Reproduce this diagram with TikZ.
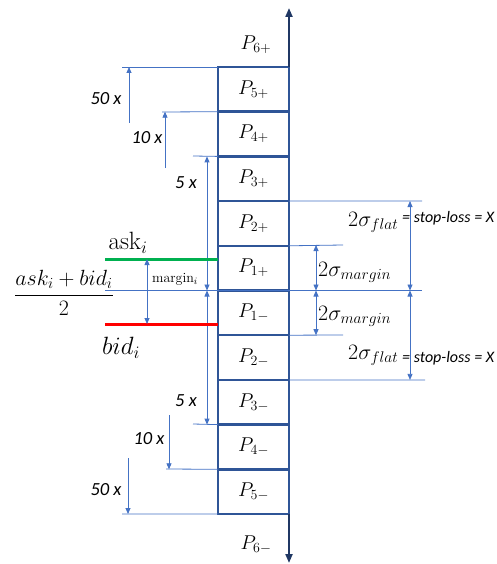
\RequirePackage{fix-cm}
\documentclass[tikz,border=0pt]{standalone}
\usepackage{fontspec}
\newfontfamily\carl{Carlito}
\usetikzlibrary{arrows.meta}
\definecolor{boxblue}{RGB}{47,85,151}
\definecolor{navy}{RGB}{32,56,100}
\definecolor{dimblue}{RGB}{68,114,196}
\definecolor{askgreen}{RGB}{0,176,80}
\definecolor{bidred}{RGB}{255,0,0}
\begin{document}
\begin{tikzpicture}[x=1pt,y=-1pt,
  pbox/.style={draw=boxblue, line width=2.4pt, minimum width=71pt, minimum height=44.7pt,
    inner sep=0pt, outer sep=0pt, font=\fontsize{20}{22}\selectfont},
  plab/.style={inner sep=0pt, font=\fontsize{20}{22}\selectfont},
  dim/.style={draw=dimblue, line width=0.8pt},
  dimarr/.style={dim, -{Triangle[length=6pt,width=5pt]}},
  dimdbl/.style={dim, {Triangle[length=6pt,width=5pt]}-{Triangle[length=6pt,width=5pt]}},
  xlab/.style={inner sep=0pt, font=\carl\itshape\fontsize{18.5}{20}\selectfont},
  axisline/.style={draw=navy, line width=2pt, -{Triangle[length=9pt,width=7pt]}},
  sig/.style={inner sep=0pt, font=\fontsize{22}{24}\selectfont},
  stoplab/.style={inner sep=0pt, font=\carl\itshape\fontsize{16}{18}\selectfont},
  pricelab/.style={inner sep=0pt, font=\fontsize{25}{28}\selectfont},
  bidask/.style={line width=3pt}
]
\useasboundingbox (0,0) rectangle (496,564);

% boxes
\node[pbox] (p5p) at (253.5,89.35)  {$P_{5+}$};
\node[pbox] (p4p) at (253.5,134.05) {$P_{4+}$};
\node[pbox] (p3p) at (253.5,178.75) {$P_{3+}$};
\node[pbox] (p2p) at (253.5,223.45) {$P_{2+}$};
\node[pbox] (p1p) at (253.5,268.15) {$P_{1+}$};
\node[pbox] (p1m) at (253.5,312.85) {$P_{1-}$};
\node[pbox] (p2m) at (253.5,357.55) {$P_{2-}$};
\node[pbox] (p3m) at (253.5,402.25) {$P_{3-}$};
\node[pbox] (p4m) at (253.5,446.95) {$P_{4-}$};
\node[pbox] (p5m) at (253.5,491.65) {$P_{5-}$};
\node[plab] (p6p) at (256,45) {$P_{6+}$};
\node[plab] (p6m) at (256,545) {$P_{6-}$};

% axis
\coordinate (axtop) at (289,8);
\coordinate (axbot) at (289,563);
\draw[axisline] (p5p.north east) -- (axtop);
\draw[axisline] (p5m.south east) -- (axbot);

% left upper dimensions
\coordinate (l50t) at (122,67);
\coordinate (a50t) at (129,123);
\draw[dim] (l50t) -- (p5p.north west);
\draw[dimarr] (a50t) -- (a50t |- p5p.north);
\node[xlab] (t50t) at (106,99) {50 x};

\coordinate (l10t) at (162,112);
\coordinate (a10t) at (165,168);
\draw[dim] (l10t) -- (p4p.north west);
\draw[dimarr] (a10t) -- (a10t |- p4p.north);
\node[xlab] (t10t) at (147,138) {10 x};

\coordinate (l5t) at (193,156);
\coordinate (a5) at (207,156);
\draw[dim] (l5t) -- (p3p.north west);
\draw[dimdbl] (a5 |- p1p.south) -- (a5 |- p3p.north);
\node[xlab] (t5t) at (186,183) {5 x};

% left lower dimensions
\coordinate (l5b) at (193,424);
\draw[dim] (l5b) -- (p3m.south west);
\draw[dimdbl] (a5 |- p1m.north) -- (a5 |- p3m.south);
\node[xlab] (t5b) at (186,401) {5 x};

\coordinate (l10b) at (166,469);
\coordinate (a10b) at (169,415);
\draw[dim] (l10b) -- (p4m.south west);
\draw[dimarr] (a10b) -- (a10b |- p4m.south);
\node[xlab] (t10b) at (149,439) {10 x};

\coordinate (l50b) at (122,514);
\coordinate (a50b) at (128,458);
\draw[dim] (l50b) -- (p5m.south west);
\draw[dimarr] (a50b) -- (a50b |- p5m.south);
\node[xlab] (t50b) at (106,490) {50 x};

% mid line
\coordinate (midL) at (105,290);
\coordinate (midR) at (422,290);
\draw[dim] (midL) -- (midR);

% ask / bid
\coordinate (askL) at (105,259);
\coordinate (askR) at (218,259);
\coordinate (bidL) at (105,324);
\coordinate (bidR) at (218,324);
\draw[bidask, askgreen] (askL) -- (askR);
\draw[bidask, bidred] (bidL) -- (bidR);
\coordinate (mgA) at (147,259);
\coordinate (mgB) at (147,324);
\draw[dimdbl] (mgA) -- (mgB);
\node[inner sep=0pt, font=\fontsize{14}{16}\selectfont] (mg) at (175,279) {margin$_i$};
\node[pricelab] (ask) at (128,243) {$\mathrm{ask}_i$};
\node[pricelab] (bid) at (121,348) {$bid_i$};
\node[inner sep=0pt, font=\fontsize{22}{24}\selectfont] (midp) at (64,293) {$\displaystyle\frac{ask_i+bid_i}{2}$};

% right dimensions
\coordinate (rft) at (422,201);
\coordinate (af) at (410,201);
\draw[dim] (p2p.north east) -- (rft);
\draw[dimdbl] (af |- p1p.south) -- (af);
\node[sig, anchor=base west] (sf1) at (348,226) {$2\sigma_{flat}$};
\node[stoplab, anchor=base west] (sl1) at (402,222) {= stop-loss = X};

\coordinate (rmt) at (343,245);
\coordinate (am) at (316,245);
\draw[dim] (p1p.north east) -- (rmt);
\draw[dimdbl] (am) -- (am |- p1p.south);
\node[sig, anchor=base west] (sm1) at (318,276) {$2\sigma_{margin}$};

\coordinate (rmb) at (343,335);
\draw[dim] (p1m.south east) -- (rmb);
\draw[dimdbl] (am |- p1m.north) -- (am |- p1m.south);
\node[sig, anchor=base west] (sm2) at (318,320) {$2\sigma_{margin}$};

\coordinate (rfb) at (425,380);
\draw[dim] (p2m.south east) -- (rfb);
\draw[dimdbl] (af |- p1m.north) -- (af |- p2m.south);
\node[sig, anchor=base west] (sf2) at (348,359) {$2\sigma_{flat}$};
\node[stoplab, anchor=base west] (sl2) at (402,362) {= stop-loss = X};
\end{tikzpicture}
\end{document}
